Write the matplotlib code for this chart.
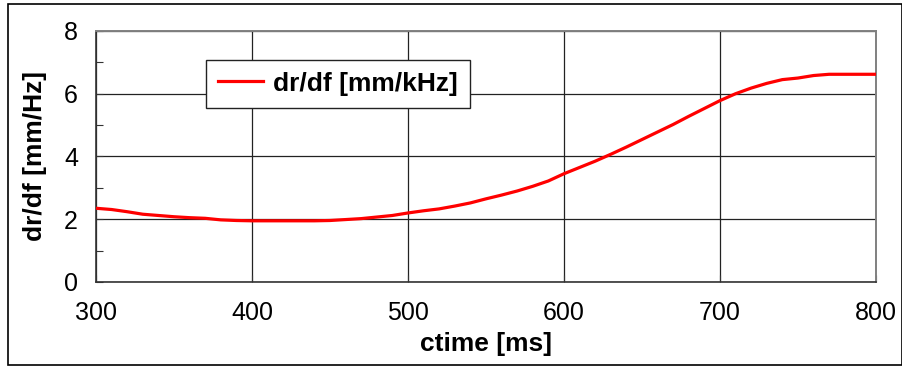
import matplotlib.pyplot as plt
from matplotlib.patches import Rectangle
from matplotlib.ticker import MultipleLocator

plt.rcParams['font.family'] = ['Liberation Sans', 'DejaVu Sans']

# ctime [ms] and dr/df [mm/kHz]
ctime = [300, 310, 320, 330, 340, 350, 360, 370, 380, 390,
         400, 410, 420, 430, 440, 450, 460, 470, 480, 490,
         500, 510, 520, 530, 540, 550, 560, 570, 580, 590,
         600, 610, 620, 630, 640, 650, 660, 670, 680, 690,
         700, 710, 720, 730, 740, 750, 760, 770, 780, 790, 800]
drdf = [2.35, 2.31, 2.24, 2.16, 2.12, 2.08, 2.05, 2.03, 1.98, 1.96,
        1.95, 1.95, 1.95, 1.95, 1.95, 1.96, 1.99, 2.02, 2.07, 2.12,
        2.20, 2.27, 2.33, 2.42, 2.52, 2.65, 2.77, 2.90, 3.05, 3.22,
        3.45, 3.65, 3.85, 4.07, 4.30, 4.54, 4.78, 5.02, 5.28, 5.53,
        5.78, 6.00, 6.18, 6.33, 6.45, 6.50, 6.58, 6.62, 6.62, 6.62, 6.62]

fig = plt.figure(figsize=(9.03, 3.68), dpi=100)
ax = fig.add_axes([0.1063, 0.2337, 0.8637, 0.6821])

ax.plot(ctime, drdf, color='#ff0000', linewidth=2.3, label='dr/df [mm/kHz]', zorder=3)

ax.set_xlim(300, 800)
ax.set_ylim(0, 8)
ax.xaxis.set_major_locator(MultipleLocator(100))
ax.yaxis.set_major_locator(MultipleLocator(2))
ax.yaxis.set_minor_locator(MultipleLocator(1))

ax.grid(True, which='major', color='#222222', linewidth=0.9)
ax.tick_params(which='both', direction='in', labelsize=18, color='#333333')
ax.tick_params(which='major', length=5)
ax.tick_params(which='minor', length=5, width=0.8)
ax.tick_params(axis='x', pad=14)
ax.tick_params(axis='y', pad=13)

for side in ['top', 'right']:
    ax.spines[side].set_color('#808080')
    ax.spines[side].set_linewidth(1.4)
for side in ['left', 'bottom']:
    ax.spines[side].set_color('#333333')
    ax.spines[side].set_linewidth(1.2)

ax.set_xlabel('ctime [ms]', fontsize=19, fontweight='bold', labelpad=5)
ax.set_ylabel('dr/df [mm/Hz]', fontsize=19, fontweight='bold', labelpad=12)

leg = ax.legend(loc='upper left', bbox_to_anchor=(0.141, 0.885),
                prop={'weight': 'bold', 'size': 19}, frameon=True, fancybox=False,
                handlelength=1.7, borderpad=0.45, handletextpad=0.4, borderaxespad=0)
leg.get_frame().set_edgecolor('#222222')
leg.get_frame().set_linewidth(1.0)
leg.get_frame().set_alpha(1)

# frame round the whole chart
fig.patches.append(Rectangle((0.0089, 0.008), 0.99, 0.981, transform=fig.transFigure,
                             fill=False, edgecolor='black', linewidth=1.2))

fig.savefig('out.png', dpi=100)
